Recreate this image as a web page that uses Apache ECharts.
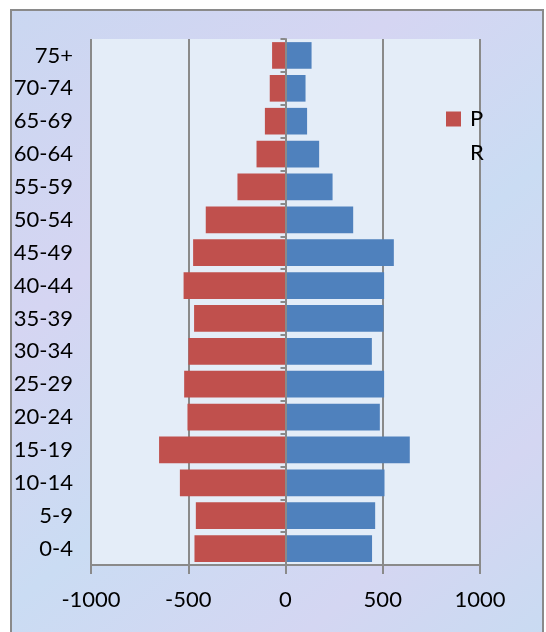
<!DOCTYPE html>
<html>
<head>
<meta charset="utf-8">
<script src="https://cdn.jsdelivr.net/npm/echarts@6/dist/echarts.min.js"></script>
<style>
html,body{margin:0;padding:0;background:#ffffff;}
#chart{width:546px;height:632px;}
</style>
</head>
<body>
<div id="chart"></div>
<script>
const categories = ['0-4','5-9','10-14','15-19','20-24','25-29','30-34','35-39','40-44','45-49','50-54','55-59','60-64','65-69','70-74','75+'];
const seriesP = [-468,-461,-543,-650,-504,-521,-499,-470,-524,-475,-410,-247,-149,-106,-81,-69];
const seriesR = [445,461,509,639,485,507,444,504,507,557,348,242,173,111,103,134];
const xTicks = [-1000,-500,0,500,1000];

const FONT = 'Lato';
const GRID_L = 91, GRID_R = 66;
const plotW = 546 - GRID_L - GRID_R;
const chart = echarts.init(document.getElementById('chart'), null, {renderer:'canvas'});
chart.setOption({
  animation:false,
  backgroundColor:'#ffffff',
  graphic:[{
    type:'rect', z:-10, silent:true,
    shape:{x:11,y:10,width:532,height:640},
    style:{
      fill:new echarts.graphic.LinearGradient(0,0,1,1,[
        {offset:0,color:'#cad7f1'},
        {offset:0.3,color:'#d5d5f2'},
        {offset:0.55,color:'#cadcf3'},
        {offset:0.8,color:'#d4d6f2'},
        {offset:1,color:'#c8dbf2'}
      ]),
      stroke:'#8a8a8a', lineWidth:2
    }
  }],
  grid:{left:GRID_L,right:GRID_R,top:39,bottom:67,show:true,backgroundColor:'#e4edf8',borderWidth:0},
  legend:{
    orient:'vertical', left:446, top:108, padding:0,
    icon:'rect',
    itemWidth:15, itemHeight:15, itemGap:12,
    textStyle:{fontFamily:FONT,fontSize:22,color:'#000',lineHeight:22,padding:[0,0,0,4]},
    data:[{name:'P'},{name:'R',itemStyle:{color:'rgba(0,0,0,0)'}}]
  },
  xAxis:{
    type:'value', min:xTicks[0], max:xTicks[xTicks.length-1], interval:500,
    axisLine:{show:true,onZero:false,lineStyle:{color:'#8a8a8a',width:2}},
    axisTick:{show:true,length:9,lineStyle:{color:'#8a8a8a',width:2}},
    splitLine:{show:true,lineStyle:{color:'#8a8a8a',width:2}},
    axisLabel:{fontFamily:FONT,fontSize:22,color:'#000',margin:24,formatter:v=>String(v)}
  },
  yAxis:[{
    type:'category', data:categories, position:'left',
    axisLine:{show:false,onZero:false},
    axisTick:{show:false},
    axisLabel:{fontFamily:FONT,fontSize:22,color:'#000',margin:18}
  },{
    type:'category', data:categories, position:'left', z:20,
    offset:-plotW/2,
    axisLine:{show:true,onZero:false,lineStyle:{color:'#8a8a8a',width:2}},
    axisTick:{show:true,length:5,lineStyle:{color:'#8a8a8a',width:2}},
    axisLabel:{show:false},
    splitLine:{show:false}
  }],
  series:[{
    name:'P', type:'bar', yAxisIndex:0, data:seriesP,
    barGap:'-100%', barCategoryGap:'19%',
    itemStyle:{color:'#c0504d'}
  },{
    name:'R', type:'bar', yAxisIndex:0, data:seriesR,
    barGap:'-100%', barCategoryGap:'19%',
    itemStyle:{color:'#4f81bd'},
    markLine:{
      silent:true, symbol:'none', z:30,
      label:{show:false},
      lineStyle:{color:'#8a8a8a',width:2,type:'solid'},
      data:[{xAxis:0}]
    }
  }]
});
</script>
</body>
</html>
